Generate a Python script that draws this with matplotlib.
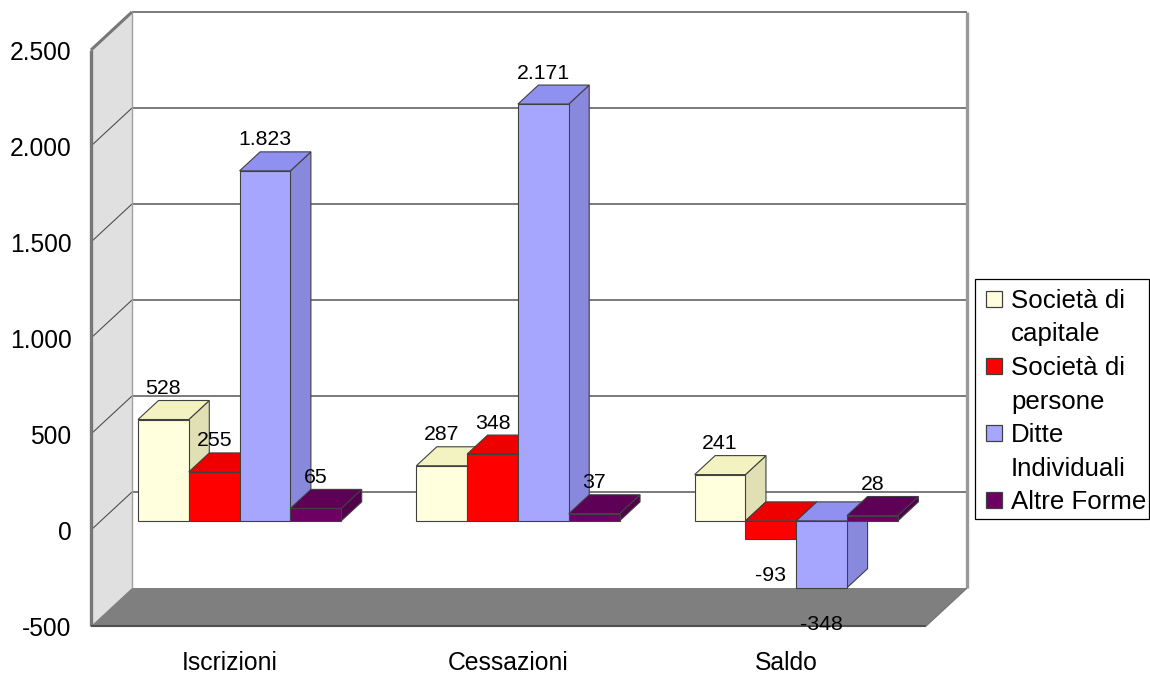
import matplotlib
matplotlib.use("Agg")
import matplotlib.pyplot as plt
from matplotlib.patches import Polygon, Rectangle
from matplotlib.transforms import ScaledTranslation

plt.rcParams['font.family'] = ['Liberation Sans', 'DejaVu Sans']

categories = ["Iscrizioni", "Cessazioni", "Saldo"]
capitale = [528, 287, 241]
persone = [255, 348, -93]
ditte = [1823, 2171, -348]
altre = [65, 37, 28]
legend_labels = ["Società di\ncapitale", "Società di\npersone", "Ditte\nIndividuali", "Altre Forme"]
yticks = [-500, 0, 500, 1000, 1500, 2000, 2500]

W, H = 1150, 673
fig = plt.figure(figsize=(W/100, H/100), dpi=100)
ax = fig.add_axes([91/W, (H-626)/H, (926-91)/W, 576/H]) #axes = front plane of the box
ax.set_xlim(0, 3)
ax.set_ylim(-500, 2500)

DX = 41/(835/3) #box depth in data units
DY = 38/(576/3000)

def proj(x, y, d):
    return (x+d*DX, y+d*DY)

def face(points, color, ec="#404040", lw=0.8, z=2):
    ax.add_patch(Polygon(points, closed=True, facecolor=color, edgecolor=ec, linewidth=lw, clip_on=False, zorder=z, joinstyle="miter"))

def line(a, b, color, lw, z=1.5):
    ax.plot([a[0], b[0]], [a[1], b[1]], color=color, lw=lw, clip_on=False, zorder=z, solid_capstyle="butt")

#left wall and floor
face([proj(0, -500, 0), proj(0, -500, 1), proj(0, 2500, 1), proj(0, 2500, 0)], "#e0e0e0", ec="none", z=1)
face([proj(0, -500, 0), proj(0, -500, 1), proj(3, -500, 1), proj(3, -500, 0)], "#7f7f7f", ec="none", z=1.2)

#grid lines on the walls
for t in yticks[1:-1]:
    line(proj(0, t, 1), proj(3, t, 1), "#707070", 1.3)
    line(proj(0, t, 0), proj(0, t, 1), "#505050", 0.8)
line(proj(0, 2500, 1), proj(3, 2500, 1), "#707070", 1.3)
line(proj(0, 2500, 0), proj(0, 2500, 1), "#777777", 2.2)
line(proj(0, -500, 0), proj(0, 2500, 0), "#777777", 2.4)
line(proj(0, -500, 1), proj(0, 2500, 1), "#a0a0a0", 1.0)
line(proj(3, -500, 1), proj(3, 2500, 1), "#999999", 2.4)
line(proj(0, -500, 0), proj(3, -500, 0), "#505050", 1.5, z=1.6)
line(proj(3, -500, 0), proj(3, -500, 1), "#777777", 1.0, z=1.6)

series = [capitale, persone, ditte, altre]
front_cols = ["#ffffdd", "#ff0000", "#a6a6ff", "#6e0064"]
top_cols = ["#f3f3c2", "#ee0000", "#9090f0", "#5e0056"]
side_cols = ["#e0e0b4", "#cc0000", "#8888dd", "#52004b"]

bw = 50.8/(835/3)
gap = 0.1335
d0, d1 = 0.24, 0.74

def fmt(v):
    return f"{v:,}".replace(",", ".")

for i in range(len(categories)):
    for j in range(len(series)):
        v = series[j][i]
        x0 = i+gap+j*bw
        x1 = x0+bw
        hi = max(v, 0)
        lo = min(v, 0)
        z = 3+i*10+j
        face([proj(x1, lo, d0), proj(x1, lo, d1), proj(x1, hi, d1), proj(x1, hi, d0)], side_cols[j], z=z)
        face([proj(x0, hi, d0), proj(x0, hi, d1), proj(x1, hi, d1), proj(x1, hi, d0)], top_cols[j], z=z)
        face([proj(x0, lo, d0), proj(x1, lo, d0), proj(x1, hi, d0), proj(x0, hi, d0)], front_cols[j], z=z)
        off = 31 if v >= 0 else -36.5
        ax.annotate(fmt(v), xy=proj((x0+x1)/2, v, d0), xytext=(0, off), textcoords="offset pixels",
                    ha="center", va="center", fontsize=15.3, color="black", zorder=100, annotation_clip=False)

ax.set_xticks([i+0.5 for i in range(len(categories))])
ax.set_xticklabels(categories, fontsize=17.8)
ax.set_yticks(yticks)
ax.set_yticklabels([fmt(t) for t in yticks], fontsize=17.7)
ax.tick_params(axis="x", length=0, pad=18)
ax.tick_params(axis="y", length=0, pad=14)
shift = ScaledTranslation(0, -0.5/100, fig.dpi_scale_trans) #tick labels sit a little low in the original
for lab in ax.get_yticklabels():
    lab.set_transform(lab.get_transform()+shift)
for s in ax.spines.values():
    s.set_visible(False)
ax.patch.set_visible(False)

#legend box, pixel positions measured from the top left corner
def fx(x):
    return x/W

def fy(y):
    return (H-y)/H

fig.add_artist(Rectangle((fx(975), fy(519)), (W-1-975)/W, 240/H, transform=fig.transFigure,
                         facecolor="white", edgecolor="black", linewidth=0.9))
row = 0
for lab, col in zip(legend_labels, front_cols):
    base = 308+33.5*row
    fig.add_artist(Rectangle((fx(986), fy(base+(-1))), 16/W, 16/H, transform=fig.transFigure,
                             facecolor=col, edgecolor="#404040", linewidth=0.9))
    for part in lab.split("\n"):
        fig.text(fx(1011), fy(308+33.5*row), part, fontsize=18.6, ha="left", va="baseline")
        row += 1

fig.savefig("out.png", dpi=100)
